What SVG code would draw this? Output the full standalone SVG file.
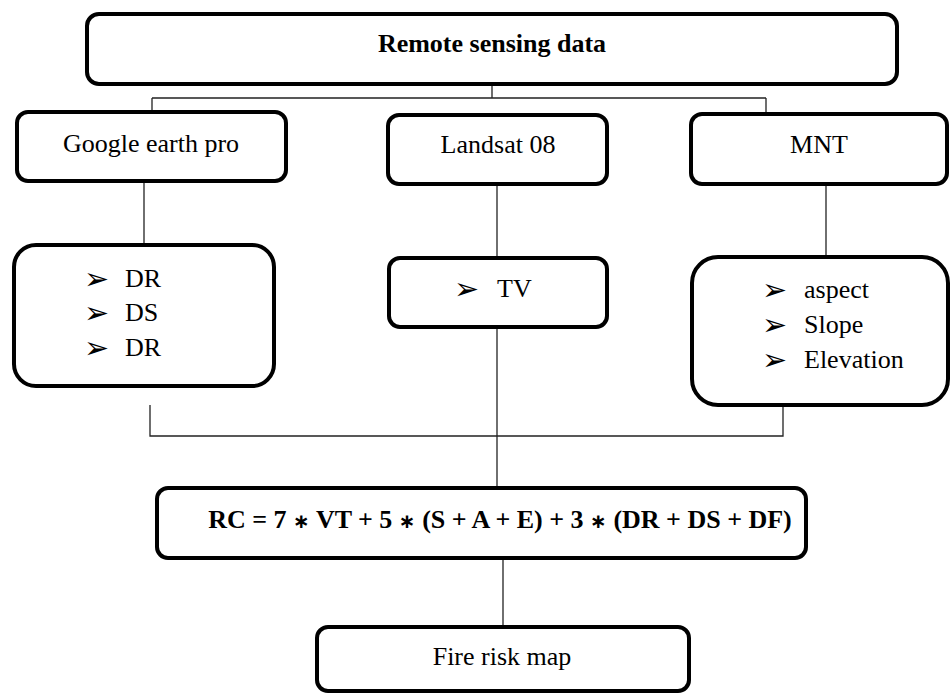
<svg xmlns="http://www.w3.org/2000/svg" width="951" height="695" viewBox="0 0 951 695">
<style>
.box{fill:#fff;stroke:#000;stroke-width:4}
text{font-family:'Liberation Serif','Times New Roman',serif;font-size:26px;fill:#000}
.b{font-weight:bold}
.bul{font-family:'DejaVu Sans',sans-serif;font-size:30px}
.ast{font-family:'DejaVu Sans',sans-serif;font-size:20px}
.c{fill:none;stroke:#222;stroke-width:1.3}
</style>
<rect width="951" height="695" fill="#fff"/>
<g id="connectors">
<path class="c" d="M492 86V98M152 98H766M152 98V111M766 98V113"/>
<path class="c" d="M144 176V244"/>
<path class="c" d="M497 186V257"/>
<path class="c" d="M826 186V256"/>
<path class="c" d="M150 405V436H783V407"/>
<path class="c" d="M497 329V487"/>
<path class="c" d="M503 558V626"/>
</g>
<g id="remote">
<rect class="box" x="87" y="14" width="810" height="70" rx="12"/>
<text class="b" x="492" y="52" text-anchor="middle">Remote sensing data</text>
</g>
<g id="google">
<rect class="box" x="17" y="112" width="269" height="69" rx="11"/>
<text x="151" y="152" text-anchor="middle">Google earth pro</text>
</g>
<g id="landsat">
<rect class="box" x="388" y="115" width="219" height="69" rx="11"/>
<text x="498" y="153" text-anchor="middle">Landsat 08</text>
</g>
<g id="mnt">
<rect class="box" x="691" y="114" width="256" height="70" rx="11"/>
<text x="819" y="153" text-anchor="middle">MNT</text>
</g>
<g id="dist">
<rect class="box" x="14" y="245" width="260" height="141" rx="22"/>
<text class="bul" x="84" y="289">➢</text>
<text class="bul" x="84" y="323">➢</text>
<text class="bul" x="84" y="358">➢</text>
<text x="125" y="287">DR</text>
<text x="125" y="321">DS</text>
<text x="125" y="356">DR</text>
</g>
<g id="tv">
<rect class="box" x="389" y="258" width="218" height="69" rx="11"/>
<text class="bul" x="454" y="299">➢</text>
<text x="497" y="297">TV</text>
</g>
<g id="terrain">
<rect class="box" x="692" y="257" width="256" height="148" rx="26"/>
<text class="bul" x="762" y="300">➢</text>
<text class="bul" x="762" y="335">➢</text>
<text class="bul" x="762" y="370">➢</text>
<text x="804" y="298">aspect</text>
<text x="804" y="333">Slope</text>
<text x="804" y="368">Elevation</text>
</g>
<g id="formula">
<rect class="box" x="157" y="488" width="649" height="70" rx="11"/>
<text class="b" x="500" y="528" text-anchor="middle" font-size="25">RC = 7 <tspan class="ast">∗</tspan> VT + 5 <tspan class="ast">∗</tspan> (S + A + E) + 3 <tspan class="ast">∗</tspan> (DR + DS + DF)</text>
</g>
<g id="fire">
<rect class="box" x="317" y="627" width="372" height="64" rx="11"/>
<text x="502" y="665" text-anchor="middle">Fire risk map</text>
</g>
</svg>
